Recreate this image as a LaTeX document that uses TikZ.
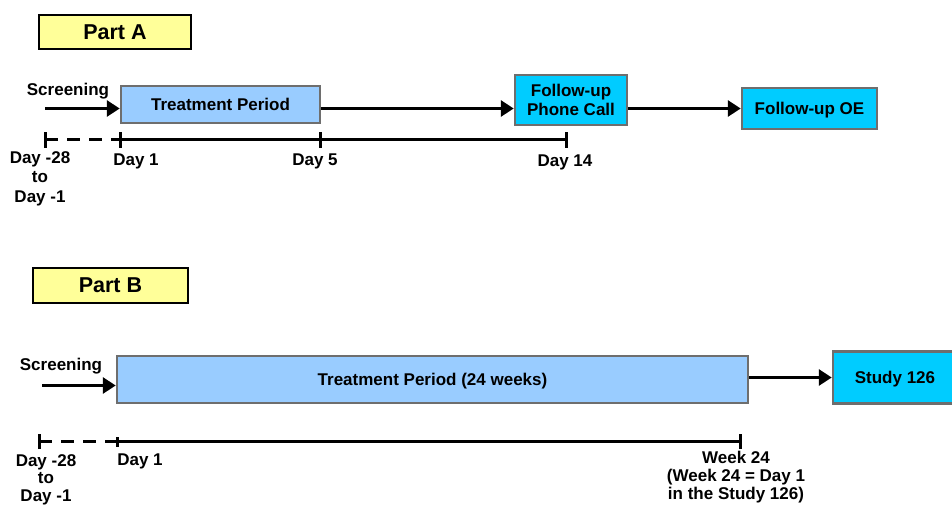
\documentclass[tikz,border=0pt]{standalone}
\usepackage{fontspec}
\setmainfont{Liberation Sans}
\usetikzlibrary{
    arrows.meta,
    positioning,
    calc
}
\definecolor{PartYellow}{RGB}{255,255,153}
\definecolor{TreatBlue}{RGB}{153,204,255}
\definecolor{FupCyan}{RGB}{0,204,255}
\definecolor{EdgeGray}{RGB}{110,110,110}
\tikzset{
  partbox/.style  = {draw=black, line width=1.5pt, fill=PartYellow, inner sep=0pt,
                     text depth=0pt, font=\fontsize{21.5}{24}\selectfont\bfseries},
  treatbox/.style = {draw=EdgeGray, line width=2.5pt, fill=TreatBlue, inner sep=0pt,
                     text depth=0pt, align=center},
  fupbox/.style   = {draw=EdgeGray, line width=2.5pt, fill=FupCyan, inner sep=0pt,
                     text depth=0pt, align=center},
  arr/.style      = {-{Triangle[length=13pt,width=16pt]}, line width=3pt, black},
  tline/.style    = {line width=3pt, black},
  dline/.style    = {line width=3pt, black, dash pattern=on 13pt off 9pt},
  tickmark/.style = {line width=3pt, black},
  lbl/.style      = {align=center, inner sep=0pt}
}

\begin{document}
\begin{tikzpicture}[x=1pt, y=-1pt,
    every node/.style={font=\fontsize{17}{19}\selectfont\bfseries}]
\useasboundingbox (0,0) rectangle (952,504);

% ---- Part A
\node[partbox, minimum width=152pt, minimum height=34pt] (partA) at (115,32) {Part A};

\node[treatbox, minimum width=199pt, minimum height=37pt] (treatA) at (220.5,104.5) {Treatment Period};
\node[fupbox, minimum width=112pt, minimum height=50pt] (phone) at (571,100) {Follow-up\\Phone Call};
\node[fupbox, minimum width=135pt, minimum height=41pt] (fupOE) at (809.5,108.5) {Follow-up OE};

\coordinate (scrA) at (45,108.5);
\node[lbl] (scrAlbl) at (68,91) {Screening};
\draw[arr] (scrA) -- (scrA -| treatA.west);
\draw[arr] (treatA.east |- scrA) -- (scrA -| phone.west);
\draw[arr] (phone.east |- fupOE.west) -- (fupOE.west);

% timeline A
\coordinate (tA0) at (45,139.5);
\coordinate (tA1) at (120,139.5);
\coordinate (tA5) at (320,139.5);
\coordinate (tA14) at (566,139.5);
\draw[dline] (tA0) -- (tA1);
\draw[tline] (tA1) -- (tA14);
\foreach \c in {tA0,tA1,tA5,tA14}
  \draw[tickmark] ([yshift=-8pt]\c) -- ([yshift=8pt]\c);

\node[lbl, anchor=north, font=\fontsize{17}{19.5}\selectfont\bfseries] (dA0) at (40,151) {Day -28\\to\\Day -1};
\node[lbl] (dA1) at (136,161) {Day 1};
\node[lbl] (dA5) at (315,161) {Day 5};
\node[lbl] (dA14) at (565,162) {Day 14};

% ---- Part B
\node[partbox, minimum width=155pt, minimum height=35pt] (partB) at (110.5,285.5) {Part B};

\node[treatbox, minimum width=631pt, minimum height=47pt] (treatB) at (432.5,379.5) {Treatment Period (24 weeks)};
\node[fupbox, minimum width=124pt, minimum height=52pt] (study) at (895,377.5) {Study 126};

\coordinate (scrB) at (42,385.5);
\node[lbl] (scrBlbl) at (61,366) {Screening};
\draw[arr] (scrB) -- (scrB -| treatB.west);
\draw[arr] (treatB.east |- study.west) -- (study.west);

% timeline B
\coordinate (tB0) at (39,441.5);
\coordinate (tB1) at (117,441.5);
\coordinate (tB24) at (740,441.5);
\draw[dline] (tB0) -- (tB1);
\draw[tline] (tB1) -- (tB24);
\foreach \c/\h in {tB0/7.5,tB1/5,tB24/7.5}
  \draw[tickmark] ([yshift=-\h pt]\c) -- ([yshift=\h pt]\c);

\node[lbl, anchor=north, font=\fontsize{17}{17.8}\selectfont\bfseries] (dB0) at (46,454) {Day -28\\to\\Day -1};
\node[lbl] (dB1) at (140,461) {Day 1};
\node[lbl, anchor=north, font=\fontsize{17}{17.8}\selectfont\bfseries] (wB24) at (736,451) {Week 24\\(Week 24 = Day 1\\in the Study 126)};
\end{tikzpicture}
\end{document}
